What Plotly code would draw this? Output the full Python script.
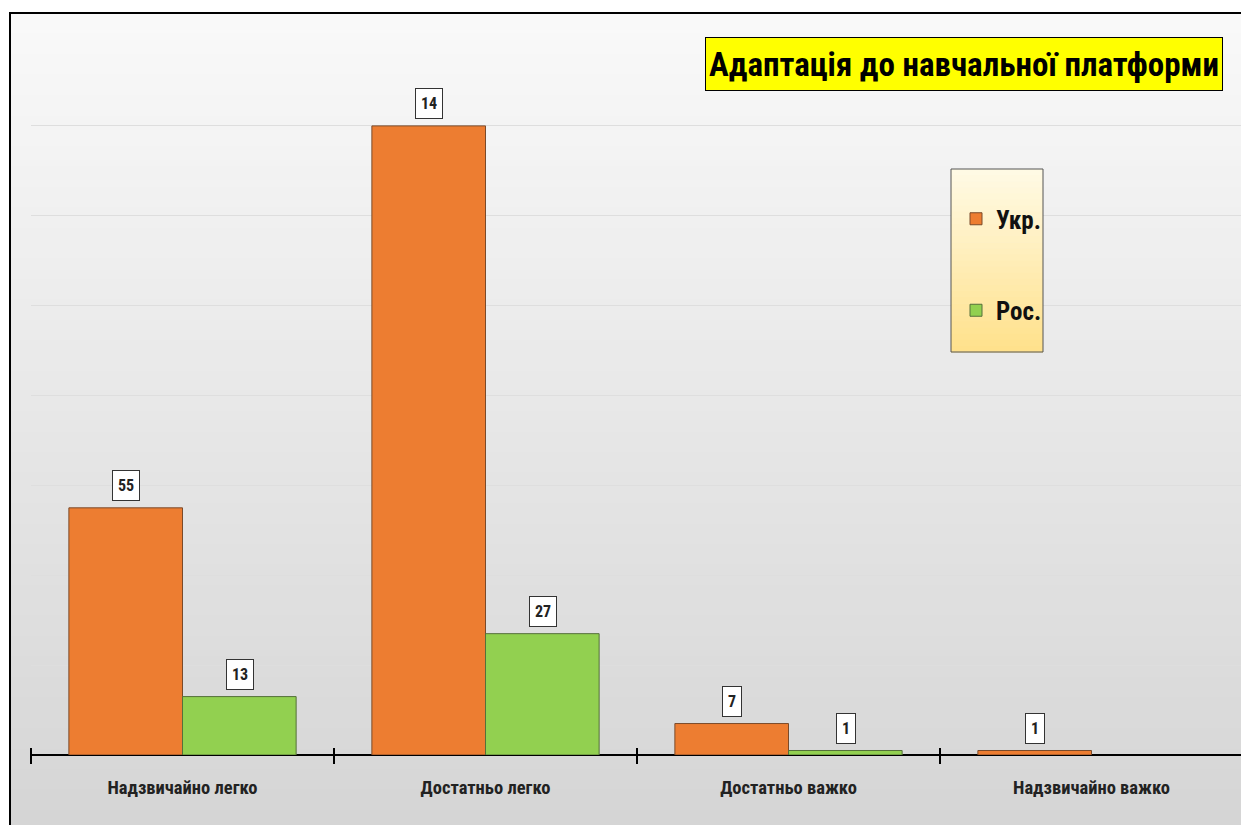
import plotly.graph_objects as go

categories = ["Надзвичайно легко", "Достатньо легко", "Достатньо важко", "Надзвичайно важко"]
ukr_values = [55, 140, 7, 1]
ros_values = [13, 27, 1, None]
ukr_labels = ["55", "14", "7", "1"]
ros_labels = ["13", "27", "1", ""]
series_names = ["Укр.", "Рос."]
title_text = "Адаптація до навчальної платформи"

FONT = "Roboto Condensed, Open Sans, sans-serif"
OFF = 8  # page body margin
W, H = 1249 - OFF, 825 - OFF
L, R, T, B = 31 - OFF, 6, 36 - OFF, 70
PW, PH = W - L - R, H - T - B


def px(x):
    return (x - OFF - L) / PW


def py(y):
    return (H - B - (y - OFF)) / PH


def grey(t):
    v = round(249 - (249 - 213) * t)
    return f"rgb({v},{v},{v})"


def cream(t):
    g = round(250 - (250 - 225) * t)
    b = round(228 - (228 - 140) * t)
    return f"rgb(255,{g},{b})"


fig = go.Figure()
fig.add_trace(go.Bar(
    x=categories, y=ukr_values, name=series_names[0], legendgroup="a",
    marker=dict(color="#ed7d31", line=dict(color="#7a4a2a", width=1)),
))
fig.add_trace(go.Bar(
    x=categories, y=ros_values, name=series_names[1], legendgroup="b",
    marker=dict(color="#92d050", line=dict(color="#55703a", width=1)),
))

shapes = []
# frame background gradient
n = 80
top, bottom = 13, 830
for i in range(n):
    y0 = top + (bottom - top) * i / n
    y1 = top + (bottom - top) * (i + 1) / n
    shapes.append(dict(type="rect", xref="paper", yref="paper", layer="below",
                       x0=px(10), x1=px(1260), y0=py(y1 + 1), y1=py(y0),
                       fillcolor=grey(i / (n - 1)), line=dict(width=0)))
shapes.append(dict(type="line", xref="paper", yref="paper", layer="below",
                   x0=px(10), x1=px(10), y0=py(830), y1=py(12),
                   line=dict(color="black", width=2)))
shapes.append(dict(type="line", xref="paper", yref="paper", layer="below",
                   x0=px(9), x1=px(1260), y0=py(13), y1=py(13),
                   line=dict(color="black", width=2)))

# legend box with gradient
lx0, lx1, ly0, ly1 = 951, 1043, 169, 352
m = 30
for i in range(m):
    y0 = ly0 + (ly1 - ly0) * i / m
    y1 = ly0 + (ly1 - ly0) * (i + 1) / m
    shapes.append(dict(type="rect", xref="paper", yref="paper", layer="above",
                       x0=px(lx0), x1=px(lx1), y0=py(y1 + 0.5), y1=py(y0),
                       fillcolor=cream(i / (m - 1)), line=dict(width=0)))
shapes.append(dict(type="rect", xref="paper", yref="paper", layer="above",
                   x0=px(lx0), x1=px(lx1), y0=py(ly1), y1=py(ly0),
                   line=dict(color="#555555", width=1)))

annotations = [dict(
    text=title_text, xref="paper", yref="paper",
    x=px(1223), y=py(37), xanchor="right", yanchor="top", showarrow=False,
    font=dict(family=FONT, size=33, color="black", weight="bold"),
    bgcolor="#ffff00", bordercolor="black", borderwidth=1, borderpad=2,
    width=512, height=48,
)]

for vals, labs, shift in [(ukr_values, ukr_labels, -57), (ros_values, ros_labels, 57)]:
    for cat, v, lab in zip(categories, vals, labs):
        if v is None or not lab:
            continue
        annotations.append(dict(
            text=lab, x=cat, y=v, xref="x", yref="y", xshift=shift, yshift=7,
            yanchor="bottom", showarrow=False,
            font=dict(family=FONT, size=16, color="#222222", weight="bold"),
            bgcolor="white", bordercolor="#333333", borderwidth=1, borderpad=5,
        ))

fig.update_layout(
    width=W, height=H,
    margin=dict(l=L, r=R, t=T, b=B),
    paper_bgcolor="white", plot_bgcolor="rgba(0,0,0,0)",
    barmode="group", bargap=0.25, bargroupgap=0,
    font=dict(family=FONT, color="#222222"),
    shapes=shapes, annotations=annotations,
    showlegend=True,
    legend=dict(
        x=px(956), y=py(196), xanchor="left", yanchor="top",
        bgcolor="rgba(0,0,0,0)", borderwidth=0,
        traceorder="grouped", tracegroupgap=56,
        font=dict(family=FONT, size=25, color="#111111", weight="bold"),
    ),
    xaxis=dict(
        type="category", categoryarray=categories, range=[-0.5, 3.5],
        anchor="free", position=8 / PH, showline=False,
        ticks="outside", ticklen=16, tickwidth=2, tickcolor="black",
        tickson="boundaries", ticklabelstandoff=27,
        tickfont=dict(family=FONT, size=18.5, color="#222222", weight="bold"),
        showgrid=False, zeroline=False,
    ),
    yaxis=dict(
        range=[0, 160], dtick=20, showticklabels=False,
        showgrid=True, gridcolor="rgb(222,222,222)", gridwidth=1,
        zeroline=True, zerolinecolor="black", zerolinewidth=2,
        showline=False, ticks="",
    ),
)

fig.write_html("out.html")
